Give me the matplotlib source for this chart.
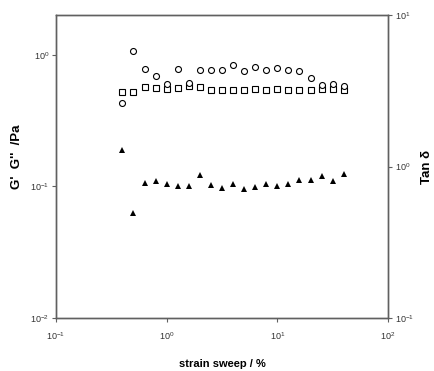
import numpy as np
import matplotlib
matplotlib.use('Agg')
import matplotlib.pyplot as plt

plt.rcParams['font.family'] = ['Liberation Sans', 'DejaVu Sans']

# strain sweep (%), log spaced
strain = [0.398, 0.501, 0.631, 0.794, 1.0, 1.26, 1.58, 2.0, 2.51, 3.16, 3.98,
          5.01, 6.31, 7.94, 10.0, 12.6, 15.8, 20.0, 25.1, 31.6, 39.8]

# circles (left axis, Pa)
g_circ = [0.429, 1.078, 0.787, 0.688, 0.595, 0.777, 0.609, 0.769, 0.769, 0.769, 0.834,
          0.751, 0.815, 0.760, 0.791, 0.773, 0.751, 0.664, 0.592, 0.602, 0.578]

# squares (left axis, Pa)
g_sq = [0.526, 0.526, 0.568, 0.562, 0.552, 0.562, 0.578, 0.568, 0.536, 0.536, 0.542,
        0.542, 0.548, 0.542, 0.548, 0.542, 0.542, 0.542, 0.552, 0.545, 0.536]

# triangles (right axis, tan delta)
tan_d = [1.29, 0.492, 0.777, 0.801, 0.765, 0.749, 0.746, 0.877, 0.760, 0.727, 0.765,
         0.712, 0.734, 0.765, 0.742, 0.772, 0.813, 0.817, 0.872, 0.805, 0.895]

spine_col = '#606060'

fig = plt.figure(figsize=(4.34, 3.71), dpi=100)
ax = fig.add_axes([0.129, 0.143, 0.765, 0.816])
ax2 = ax.twinx()

ax.plot(strain, g_circ, linestyle='none', marker='o', markersize=4.3,
        markerfacecolor='white', markeredgecolor='black', markeredgewidth=0.8, zorder=3)
ax.plot(strain, g_sq, linestyle='none', marker='s', markersize=4.0,
        markerfacecolor='white', markeredgecolor='black', markeredgewidth=0.8, zorder=2)
ax2.plot(strain, tan_d, linestyle='none', marker='^', markersize=5.0,
         color='black', markeredgewidth=0)

ax.set_xscale('log')
ax.set_yscale('log')
ax2.set_yscale('log')
ax.set_xlim(0.1, 100)
ax.set_ylim(0.01, 2)
ax2.set_ylim(0.1, 10)

ax.set_xticks([0.1, 1, 10, 100])
ax.set_yticks([0.01, 0.1, 1])
ax2.set_yticks([0.1, 1, 10])
ax.minorticks_off()
ax2.minorticks_off()

for a in (ax, ax2):
    for s in a.spines.values():
        s.set_color(spine_col)
        s.set_linewidth(1.0)
    a.tick_params(direction='out', length=3, width=0.8, color=spine_col,
                  labelsize=6.5, labelcolor='#333333')
ax.tick_params(axis='x', pad=6)
ax.tick_params(axis='y', pad=2)
ax2.tick_params(axis='y', pad=2)

ax.set_xlabel('strain sweep / %', fontsize=8, fontweight='bold', labelpad=12)
ax.set_ylabel("G'  G''  /Pa", fontsize=9.5, fontweight='bold')
ax.yaxis.set_label_coords(-0.1, 0.532)
ax2.set_ylabel('Tan δ', fontsize=9.5, fontweight='bold')
ax2.yaxis.set_label_coords(1.098, 0.5)

fig.savefig('out.png', dpi=100)
